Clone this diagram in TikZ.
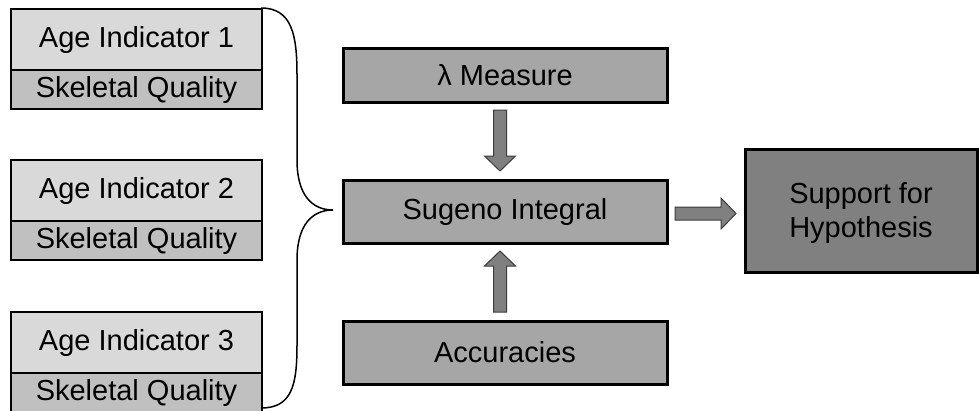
\documentclass[tikz,border=0pt]{standalone}
\usepackage{fontspec}
\setmainfont{Liberation Sans}
\usetikzlibrary{calc}
\definecolor{lightbox}{HTML}{D9D9D9}
\definecolor{qualbox}{HTML}{C0C0C0}
\definecolor{midbox}{HTML}{A6A6A6}
\definecolor{darkbox}{HTML}{808080}
\definecolor{arrowfill}{HTML}{808080}
\definecolor{arrowline}{HTML}{3C3C3C}
\tikzset{
  every node/.style={font=\fontsize{29}{34}\selectfont, inner sep=0pt, outer sep=0pt},
  agebox/.style={draw=black, line width=1.8pt, fill=lightbox, minimum width=251pt, minimum height=61pt, anchor=north west},
  qualitybox/.style={draw=black, line width=1.8pt, fill=qualbox, minimum width=251pt, minimum height=39pt, anchor=north west},
  procbox/.style={draw=black, line width=3pt, fill=midbox, minimum width=324pt},
  resultbox/.style={draw=black, line width=3pt, fill=darkbox, minimum width=232pt, minimum height=123pt, align=center, text depth=0pt},
  pics/blockarrow/.style={code={
    \draw[fill=arrowfill, draw=arrowline, line width=1pt, line join=miter]
      (0,-6.5) -- (46,-6.5) -- (46,-15.5) -- (61,0) -- (46,15.5) -- (46,6.5) -- (0,6.5) -- cycle;
  }},
}
\begin{document}
\begin{tikzpicture}[x=1pt, y=-1pt]
\useasboundingbox (0,0) rectangle (979,410);

% indicator stacks on the left
\node[agebox] (age1) at (11,9) {Age Indicator 1};
\node[qualitybox] (qual1) at (age1.south west) {Skeletal Quality};
\node[agebox] (age2) at (11,160) {Age Indicator 2};
\node[qualitybox] (qual2) at (age2.south west) {Skeletal Quality};
\node[agebox] (age3) at (11,312) {Age Indicator 3};
\node[qualitybox] (qual3) at (age3.south west) {Skeletal Quality};

% central processing chain
\node[procbox, minimum height=54pt] (lambda) at (505,75) {λ Measure};
\node[procbox, minimum height=63pt] (sugeno) at (505,211.5) {Sugeno Integral};
\node[procbox, minimum height=63pt] (acc) at (505,352.5) {Accuracies};

% outcome
\node[resultbox] (support) at (861,210.5) {Support for\\Hypothesis};

% brace gathering the three indicators
\coordinate (bracetop) at (261,8);
\coordinate (bracetip) at (333,210);
\coordinate (bracebot) at (261,408);
\draw[line width=1.5pt, black]
  (bracetop) .. controls (292,8) and (297,35) .. (297,75)
  -- (297,160) .. controls (297,195) and (312,210) .. (bracetip)
  .. controls (312,210) and (297,225) .. (297,260)
  -- (297,345) .. controls (297,385) and (292,408) .. (bracebot);

% block arrows between the boxes
\pic[rotate=-90] at ($(lambda.south)+(-5,8)$) {blockarrow};
\pic[rotate=90] at ($(acc.north)+(-5,-9)$) {blockarrow};
\pic at ($(sugeno.east)+(8,2)$) {blockarrow};
\end{tikzpicture}
\end{document}
